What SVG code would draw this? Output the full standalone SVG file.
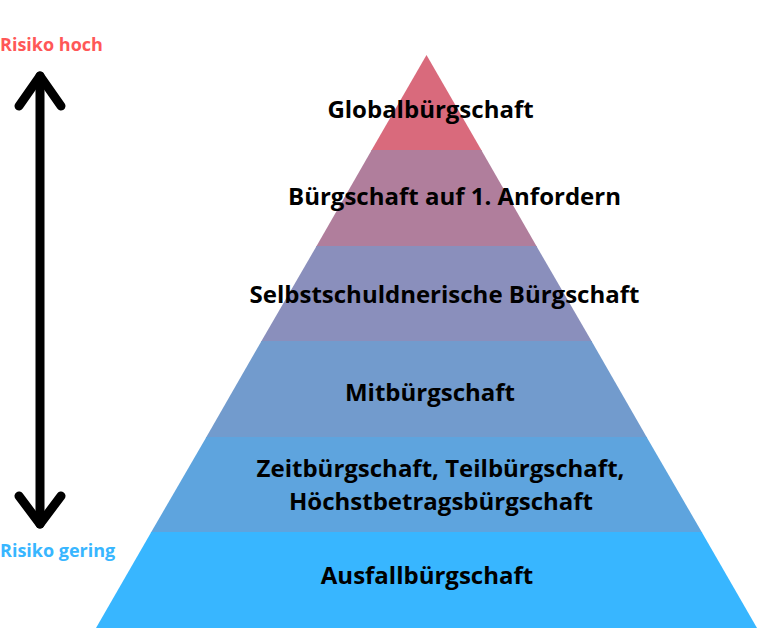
<svg xmlns="http://www.w3.org/2000/svg" width="765" height="630" viewBox="0 0 765 630">
<style>
.lbl{font-family:"Open Sans","Liberation Sans",sans-serif;font-weight:bold;font-size:24px;fill:#000;text-anchor:middle}
.side{font-family:"Open Sans","Liberation Sans",sans-serif;font-weight:bold;font-size:18px}
.arr{fill:none;stroke:#000;stroke-width:9;stroke-linecap:round;stroke-linejoin:round}
</style>
<rect width="765" height="630" fill="#fff"/>
<g id="band1"><polygon points="426.5,55 481.9,151 371.1,151" fill="#D96A7C"/><text class="lbl" x="430.5" y="118">Globalbürgschaft</text></g>
<g id="band2"><polygon points="371.7,150 481.3,150 537,247 316,247" fill="#B07E9C"/><text class="lbl" x="454.5" y="205">Bürgschaft auf 1. Anfordern</text></g>
<g id="band3"><polygon points="316.6,246 536.4,246 592.1,342 260.9,342" fill="#8A8FBC"/><text class="lbl" x="444.5" y="303">Selbstschuldnerische Bürgschaft</text></g>
<g id="band4"><polygon points="261.5,341 591.5,341 647.2,438 205.8,438" fill="#729BCD"/><text class="lbl" x="430" y="401">Mitbürgschaft</text></g>
<g id="band5"><polygon points="206.4,437 646.6,437 702.3,533 150.7,533" fill="#5EA4DE"/><text class="lbl" x="440.5" y="477">Zeitbürgschaft, Teilbürgschaft,</text><text class="lbl" x="441" y="510">Höchstbetragsbürgschaft</text></g>
<g id="band6"><polygon points="151.3,532 701.7,532 757,628 96,628" fill="#38B6FF"/><text class="lbl" x="427" y="584">Ausfallbürgschaft</text></g>
<g id="risk-high"><text class="side" x="0" y="51" fill="#FF5757">Risiko hoch</text></g>
<g id="risk-low"><text class="side" x="0" y="557" fill="#38B6FF">Risiko gering</text></g>
<g id="connectors">
<line class="arr" x1="40" y1="76" x2="40" y2="524"/>
<polyline class="arr" points="19,106 40,76 61,106"/>
<polyline class="arr" points="19,496 40,524 61,496"/>
</g>
</svg>
